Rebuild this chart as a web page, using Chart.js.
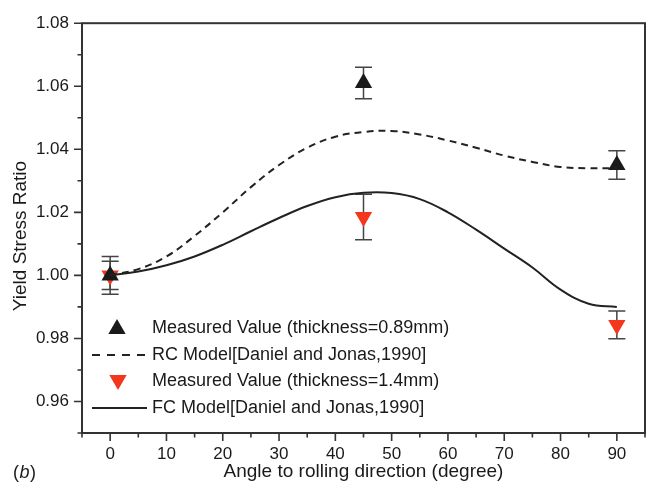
<!DOCTYPE html>
<html>
<head>
<meta charset="utf-8">
<script src="https://cdn.jsdelivr.net/npm/chart.js@4.4.0/dist/chart.umd.min.js"></script>
<style>
  html, body { margin: 0; padding: 0; background: #fff; }
  #wrap { width: 656px; height: 489px; }
</style>
</head>
<body>
<div id="wrap"><canvas id="yieldChart" width="656" height="489"></canvas></div>
<script>
// Measured points (angle in degree, yield stress ratio, error half-length)
const measuredAngles = [0, 45, 90];
const thinValues = [1.000, 1.061, 1.035];     // thickness = 0.89mm
const thinErrors = [0.006, 0.005, 0.0045];
const thickValues = [1.000, 1.0185, 0.9843];  // thickness = 1.4mm
const thickErrors = [0.0045, 0.0072, 0.0044];

// Model curves every 5 degree
const modelAngles = [0, 5, 10, 15, 20, 25, 30, 35, 40, 45, 50, 55, 60, 65, 70, 75, 80, 85, 90];
const rcModel = [1.000, 1.002, 1.006, 1.0125, 1.020, 1.028, 1.035, 1.0405, 1.044, 1.0455, 1.0458,
                 1.0447, 1.0428, 1.0405, 1.038, 1.036, 1.0344, 1.034, 1.034];
const fcModel = [1.000, 1.0012, 1.0032, 1.006, 1.0097, 1.014, 1.0182, 1.022, 1.0248, 1.0262, 1.0261,
                 1.0242, 1.020, 1.0145, 1.0085, 1.0025, 0.9955, 0.991, 0.990];

const legendLabels = [
  'Measured Value (thickness=0.89mm)',
  'RC Model[Daniel and Jonas,1990]',
  'Measured Value (thickness=1.4mm)',
  'FC Model[Daniel and Jonas,1990]'
];
const xTitle = 'Angle to rolling direction (degree)';
const yTitle = 'Yield Stress Ratio';

const FONT = '"Liberation Sans", Arial, sans-serif';
const RED = '#f3361c';
const INK = '#1a1a1a';

const toPoints = (xs, ys) => xs.map((x, i) => ({ x: x, y: ys[i] }));

// error bars, frame, ticks, legend and labels drawn on top of Chart.js scales
const decorPlugin = {
  id: 'decor',
  beforeDatasetsDraw(chart) {
    const { ctx, scales: { x, y } } = chart;
    ctx.save();
    ctx.strokeStyle = '#444';
    ctx.lineWidth = 1.5;
    const bars = [[thinValues, thinErrors], [thickValues, thickErrors]];
    bars.forEach(([vals, errs]) => {
      measuredAngles.forEach((a, i) => {
        const px = x.getPixelForValue(a);
        const top = y.getPixelForValue(vals[i] + errs[i]);
        const bot = y.getPixelForValue(vals[i] - errs[i]);
        ctx.beginPath();
        ctx.moveTo(px, top); ctx.lineTo(px, bot);
        ctx.moveTo(px - 8.5, top); ctx.lineTo(px + 8.5, top);
        ctx.moveTo(px - 8.5, bot); ctx.lineTo(px + 8.5, bot);
        ctx.stroke();
      });
    });
    ctx.restore();
  },
  afterDraw(chart) {
    const { ctx, chartArea: ca, scales: { x, y } } = chart;
    ctx.save();
    // frame
    ctx.strokeStyle = '#333';
    ctx.lineWidth = 2;
    ctx.strokeRect(ca.left, ca.top, ca.right - ca.left, ca.bottom - ca.top);
    // tick marks (outside)
    ctx.lineWidth = 1.6;
    ctx.beginPath();
    x.ticks.forEach(t => {
      const px = x.getPixelForValue(t.value);
      const len = (Math.round(t.value) % 10 === 0) ? 8 : 4.5;
      ctx.moveTo(px, ca.bottom); ctx.lineTo(px, ca.bottom + len);
    });
    y.ticks.forEach(t => {
      const py = y.getPixelForValue(t.value);
      const len = (Math.round(t.value * 100) % 2 === 0) ? 8 : 4.5;
      ctx.moveTo(ca.left, py); ctx.lineTo(ca.left - len, py);
    });
    ctx.stroke();

    // y title
    ctx.fillStyle = INK;
    ctx.font = '19px ' + FONT;
    ctx.textAlign = 'center';
    ctx.textBaseline = 'middle';
    ctx.translate(21, 236);
    ctx.rotate(-Math.PI / 2);
    ctx.fillText(yTitle, 0, 0);
    ctx.restore();

    // (b)
    ctx.save();
    ctx.fillStyle = INK;
    ctx.textBaseline = 'middle';
    ctx.font = '18px ' + FONT;
    ctx.fillText('(', 13, 473);
    ctx.font = 'italic 18px ' + FONT;
    ctx.fillText('b', 19.5, 473);
    ctx.font = '18px ' + FONT;
    ctx.fillText(')', 30, 473);

    // legend
    const rows = [328, 355, 381, 408];
    ctx.font = '18px ' + FONT;
    ctx.textAlign = 'left';
    legendLabels.forEach((txt, i) => ctx.fillText(txt, 152, rows[i]));
    const tri = (cx, cy, r, down, color) => {
      const s = down ? -1 : 1;
      ctx.beginPath();
      ctx.moveTo(cx, cy - s * r);
      ctx.lineTo(cx + r * 0.866, cy + s * r * 0.5);
      ctx.lineTo(cx - r * 0.866, cy + s * r * 0.5);
      ctx.closePath();
      ctx.fillStyle = color;
      ctx.fill();
    };
    tri(117, rows[0] + 1, 10, false, INK);
    tri(118, rows[2] - 1, 10, true, RED);
    ctx.strokeStyle = '#222';
    ctx.lineWidth = 2;
    ctx.setLineDash([8, 7]);
    ctx.beginPath(); ctx.moveTo(92, rows[1]); ctx.lineTo(148, rows[1]); ctx.stroke();
    ctx.setLineDash([]);
    ctx.beginPath(); ctx.moveTo(92, rows[3]); ctx.lineTo(147, rows[3]); ctx.stroke();
    ctx.restore();
  }
};

const chart = new Chart(document.getElementById('yieldChart').getContext('2d'), {
  type: 'scatter',
  data: {
    datasets: [
      {
        label: legendLabels[1],
        type: 'line',
        data: toPoints(modelAngles, rcModel),
        borderColor: '#222',
        borderWidth: 2,
        borderDash: [7, 5],
        pointRadius: 0,
        fill: false,
        tension: 0.4
      },
      {
        label: legendLabels[3],
        type: 'line',
        data: toPoints(modelAngles, fcModel),
        borderColor: '#222',
        borderWidth: 2,
        pointRadius: 0,
        fill: false,
        tension: 0.4
      },
      {
        label: legendLabels[0],
        data: toPoints(measuredAngles, thinValues),
        pointStyle: 'triangle',
        pointRadius: 10,
        backgroundColor: INK,
        borderColor: INK,
        borderWidth: 0
      },
      {
        label: legendLabels[2],
        data: toPoints(measuredAngles, thickValues),
        pointStyle: 'triangle',
        rotation: 180,
        pointRadius: 10,
        backgroundColor: RED,
        borderColor: RED,
        borderWidth: 0
      }
    ]
  },
  options: {
    responsive: false,
    animation: false,
    devicePixelRatio: 1,
    layout: { padding: { left: 0, right: 5, top: 12, bottom: 0 } },
    plugins: {
      legend: { display: false },
      tooltip: { enabled: false }
    },
    scales: {
      x: {
        type: 'linear',
        min: -5,
        max: 95,
        afterFit: s => { s.height = 56; },
        grid: { display: false, drawTicks: false },
        border: { display: false },
        ticks: {
          stepSize: 5,
          autoSkip: false,
          maxRotation: 0,
          padding: 11,
          color: INK,
          font: { family: FONT, size: 17 },
          callback: v => (Math.round(v) % 10 === 0 && v >= 0) ? String(Math.round(v)) : ''
        },
        title: {
          display: true,
          text: xTitle,
          color: INK,
          font: { family: FONT, size: 19 },
          padding: { top: 0, bottom: 6 }
        }
      },
      y: {
        type: 'linear',
        min: 0.95,
        max: 1.08,
        afterFit: s => { s.width = 82; },
        grid: { display: false, drawTicks: false },
        border: { display: false },
        ticks: {
          stepSize: 0.01,
          autoSkip: false,
          padding: 13,
          color: INK,
          font: { family: FONT, size: 17 },
          callback: v => {
            const k = Math.round(v * 100);
            return (k % 2 === 0) ? (k / 100).toFixed(2) : '';
          }
        }
      }
    }
  },
  plugins: [decorPlugin]
});
</script>
</body>
</html>
